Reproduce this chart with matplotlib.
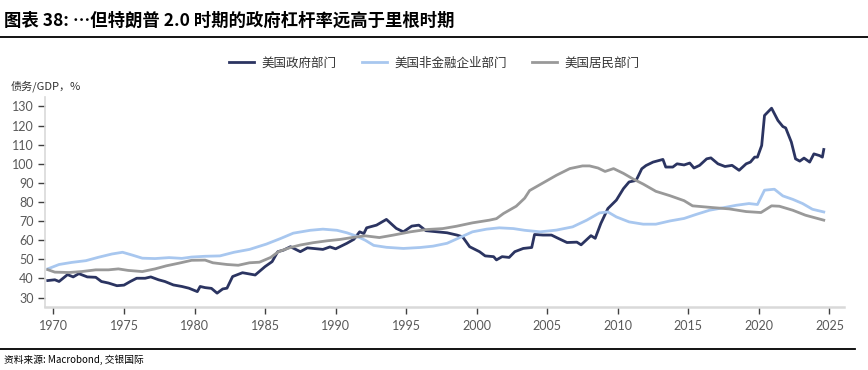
import matplotlib.pyplot as plt
import numpy as np

plt.rcParams['font.family'] = ['Noto Sans CJK SC', 'DejaVu Sans']

# 美国政府部门
gov_t = [1969.6, 1970.1, 1970.4, 1971.0, 1971.4, 1971.8, 1972.4, 1973.0, 1973.4, 1973.9,
         1974.5, 1975.0, 1975.45, 1975.9, 1976.5, 1976.9, 1977.45, 1977.9, 1978.5, 1979.1,
         1979.6, 1979.9, 1980.2, 1980.4, 1980.75, 1981.2, 1981.6, 1982.0, 1982.3, 1982.7,
         1983.4, 1984.3, 1985.0, 1985.5, 1985.9, 1986.3, 1986.8, 1987.5, 1988.0, 1989.1,
         1989.6, 1990.0, 1990.8, 1991.3, 1991.7, 1992.0, 1992.2, 1992.9, 1993.6, 1994.3,
         1994.8, 1995.4, 1995.9, 1996.4, 1997.2, 1997.9, 1998.6, 1999.0, 1999.5, 2000.2,
         2000.6, 2001.2, 2001.4, 2001.8, 2002.3, 2002.7, 2003.3, 2003.9, 2004.1, 2004.7,
         2005.3, 2005.8, 2006.4, 2007.1, 2007.4, 2008.1, 2008.4, 2008.8, 2009.3, 2009.9,
         2010.4, 2010.8, 2011.3, 2011.7, 2012.0, 2012.5, 2013.2, 2013.4, 2013.9, 2014.2,
         2014.7, 2015.1, 2015.4, 2015.8, 2016.3, 2016.6, 2017.1, 2017.6, 2018.1, 2018.6,
         2019.1, 2019.4, 2019.7, 2019.9, 2020.2, 2020.4, 2020.9, 2021.35, 2021.7, 2021.9,
         2022.3, 2022.6, 2022.9, 2023.2, 2023.6, 2023.9, 2024.3, 2024.5, 2024.6]
gov_v = [38.9, 39.3, 38.4, 42.0, 40.8, 42.5, 40.8, 40.6, 38.4, 37.6,
         36.2, 36.5, 38.4, 40.1, 40.1, 40.8, 39.3, 38.4, 36.6, 35.8,
         34.9, 34.0, 33.1, 35.8, 35.2, 34.8, 32.3, 34.5, 34.9, 41.0,
         43.0, 41.8, 46.2, 48.8, 54.0, 54.8, 56.6, 54.0, 56.0, 55.2,
         56.5, 55.5, 58.4, 60.5, 64.4, 63.5, 66.5, 67.9, 70.9, 66.2,
         64.4, 67.4, 67.9, 65.0, 64.4, 63.9, 62.7, 61.8, 56.6, 54.0,
         51.8, 51.4, 49.7, 51.4, 51.0, 54.0, 55.7, 56.2, 63.0, 62.7,
         62.7, 60.9, 58.8, 59.0, 57.6, 62.4, 61.0, 68.8, 76.6, 81.0,
         87.0, 90.5, 91.3, 97.4, 99.1, 100.9, 102.3, 98.3, 98.3, 100.0,
         99.4, 100.4, 97.8, 99.2, 102.6, 103.1, 100.0, 98.6, 99.2, 96.6,
         100.0, 100.9, 103.5, 103.5, 109.6, 125.3, 129.1, 122.7, 119.5, 118.8,
         111.4, 102.6, 101.4, 103.0, 100.9, 105.2, 104.3, 103.5, 107.5]

# 美国非金融企业部门
corp_t = [1969.6, 1970.4, 1971.3, 1972.3, 1973.2, 1974.15, 1974.9, 1975.6, 1976.3, 1977.2,
          1978.2, 1979.1, 1979.8, 1980.75, 1981.8, 1982.8, 1983.9, 1985.1, 1986.1, 1987.0,
          1988.2, 1989.1, 1990.1, 1990.8, 1991.5, 1992.1, 1992.7, 1993.6, 1994.8, 1996.0,
          1996.9, 1997.9, 1998.8, 1999.7, 2000.7, 2001.6, 2002.6, 2003.4, 2004.5, 2005.65,
          2006.8, 2007.8, 2008.7, 2009.3, 2009.9, 2010.8, 2011.8, 2012.7, 2013.7, 2014.7,
          2015.55, 2016.5, 2017.4, 2018.4, 2019.3, 2019.9, 2020.4, 2021.1, 2021.7, 2022.4,
          2023.1, 2023.8, 2024.6]
corp_v = [45.0, 47.3, 48.4, 49.3, 51.1, 52.8, 53.7, 52.2, 50.6, 50.4,
          50.9, 50.5, 51.2, 51.6, 51.8, 53.7, 55.2, 58.0, 60.9, 63.7,
          65.2, 65.8, 65.2, 63.9, 62.1, 60.0, 57.3, 56.3, 55.7, 56.2,
          56.9, 58.4, 61.4, 64.4, 65.8, 66.5, 66.1, 65.2, 64.4, 65.3,
          67.0, 70.5, 74.3, 74.8, 72.2, 69.6, 68.4, 68.4, 70.1, 71.4,
          73.5, 75.7, 76.9, 78.3, 79.2, 78.7, 86.2, 86.7, 83.2, 81.4,
          79.2, 76.2, 74.8]

# 美国居民部门
hh_t = [1969.6, 1970.1, 1971.1, 1972.0, 1973.0, 1973.9, 1974.6, 1975.3, 1976.3, 1977.2,
        1978.0, 1978.9, 1979.8, 1980.75, 1981.3, 1982.3, 1983.1, 1983.9, 1984.6, 1985.4,
        1985.95, 1986.8, 1987.5, 1988.4, 1989.4, 1990.3, 1991.25, 1992.1, 1993.1, 1994.1,
        1995.3, 1996.45, 1997.6, 1998.55, 1999.7, 2000.9, 2001.4, 2001.9, 2002.8, 2003.4,
        2003.75, 2004.7, 2005.65, 2006.6, 2007.5, 2008.0, 2008.6, 2009.1, 2009.7, 2010.4,
        2011.1, 2011.8, 2012.7, 2013.7, 2014.7, 2015.3, 2016.7, 2017.9, 2019.1, 2020.15,
        2020.9, 2021.45, 2022.4, 2023.3, 2024.6]
hh_v = [44.6, 43.3, 43.1, 43.6, 44.5, 44.5, 45.0, 44.2, 43.6, 45.0,
        46.6, 48.0, 49.5, 49.6, 48.2, 47.3, 46.9, 48.2, 48.5, 51.0,
        54.0, 56.2, 57.5, 58.7, 59.7, 60.4, 61.5, 62.3, 61.4, 62.7,
        64.4, 65.6, 66.1, 67.3, 69.1, 70.5, 71.3, 74.0, 77.8, 82.0,
        86.0, 90.0, 94.0, 97.5, 98.9, 98.9, 97.8, 96.0, 97.5, 95.0,
        92.0, 89.4, 85.6, 83.3, 80.7, 78.0, 77.1, 76.4, 75.0, 74.5,
        78.0, 77.8, 75.7, 73.1, 70.5]

years = [1970, 1975, 1980, 1985, 1990, 1995, 2000, 2005, 2010, 2015, 2020, 2025]
yticks = [30, 40, 50, 60, 70, 80, 90, 100, 110, 120, 130]

fig = plt.figure(figsize=(8.68, 3.70), dpi=100)
ax = fig.add_axes([0.0518, 0.170, 0.920, 0.568])

ax.plot(gov_t, gov_v, color='#2b3461', lw=2.0, label='美国政府部门')
ax.plot(corp_t, corp_v, color='#a8c7ef', lw=2.0, label='美国非金融企业部门')
ax.plot(hh_t, hh_v, color='#999999', lw=2.0, label='美国居民部门')

ax.set_xlim(1969.4, 2026)
ax.set_ylim(25, 135)
ax.set_xticks(years)
ax.set_yticks(yticks)
for s in ['top', 'right']:
    ax.spines[s].set_visible(False)
ax.spines['left'].set_color('#d9d9d9')
ax.spines['left'].set_linewidth(1.2)
ax.spines['bottom'].set_color('#d9d9d9')
ax.spines['bottom'].set_linewidth(1.8)
ax.tick_params(axis='x', direction='out', length=5, width=1, color='#404040',
               labelsize=9, labelcolor='#595959', pad=4)
ax.tick_params(axis='y', direction='out', length=5, width=1, color='#404040',
               labelsize=9, labelcolor='#595959', pad=3)
for lab in ax.get_xticklabels() + ax.get_yticklabels():
    lab.set_family(['Lato', 'DejaVu Sans'])

leg = fig.legend(loc='center', bbox_to_anchor=(0.5, 0.83), ncol=3, frameon=False,
                 fontsize=9, handlelength=2.0, columnspacing=2.0, handletextpad=0.6)
for t in leg.get_texts():
    t.set_color('#333333')

fig.text(0.012, 0.768, '债务/GDP，%', fontsize=8, color='#333333', va='center')

fig.text(0.005, 0.945, '图表 38: …但特朗普 2.0 时期的政府杠杆率远高于里根时期',
         fontsize=12.5, fontweight='bold', va='center', color='black')
fig.add_artist(plt.Line2D([0, 1], [0.900, 0.900], color='black', lw=1.3,
                          transform=fig.transFigure))
fig.add_artist(plt.Line2D([0, 0.985], [0.057, 0.057], color='black', lw=1.3,
                          transform=fig.transFigure))
fig.text(0.005, 0.027, '资料来源: Macrobond, 交银国际', fontsize=7, style='italic',
         va='center', color='black')

fig.savefig('out.png', dpi=100)
